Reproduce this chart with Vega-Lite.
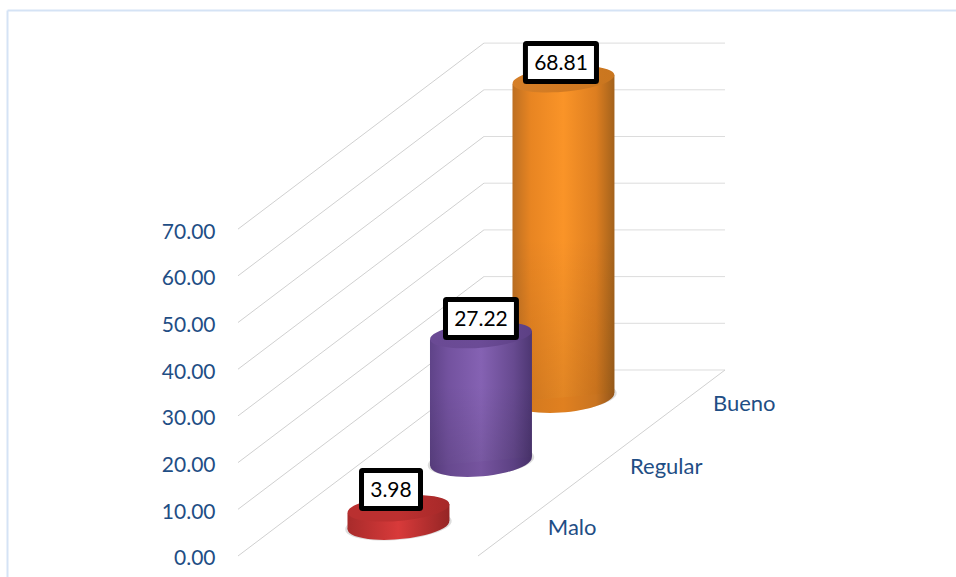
{"$schema":"https://vega.github.io/schema/vega-lite/v6.json","width":956,"height":577,"padding":0,"autosize":"none","background":"white","config":{"view":{"stroke":null}},
"datasets":{
"bars":[{"category":"Bueno","depth":3,"floor":34.0,"top":102.1,"value":68.81,"bx1":2.539,"bx2":3.4,"by1":109.74,"by2":101.61,"tx":2.97,"ty":105.27,"cx":4.812,"cy":32.56},
{"category":"Regular","depth":2,"floor":20.3,"top":47.3,"value":27.22,"bx1":1.57,"bx2":2.43,"by1":54.93,"by2":46.79,"tx":2.0,"ty":50.46,"cx":3.806,"cy":19.07},
{"category":"Malo","depth":1,"floor":6.6,"top":10.2,"value":3.98,"bx1":0.552,"bx2":1.267,"by1":18.31,"by2":10.17,"tx":0.909,"ty":13.84,"cx":2.81,"cy":6.01}],
"bodies":[{"category":"Bueno","x":2.382,"yTop":101.15,"yFloor":33.05},{"category":"Bueno","x":3.618,"yTop":103.05,"yFloor":34.95},
{"category":"Regular","x":1.382,"yTop":46.35,"yFloor":19.35},{"category":"Regular","x":2.618,"yTop":48.25,"yFloor":21.25},
{"category":"Malo","x":0.382,"yTop":9.25,"yFloor":5.65},{"category":"Malo","x":1.618,"yTop":11.15,"yFloor":7.55}],
"grid":[{"level":0,"fx":-0.945,"bx":2.036,"rx":4.958,"fy":0,"by":39.83},{"level":10,"fx":-0.945,"bx":2.036,"rx":4.958,"fy":10,"by":49.83},{"level":20,"fx":-0.945,"bx":2.036,"rx":4.958,"fy":20,"by":59.83},{"level":30,"fx":-0.945,"bx":2.036,"rx":4.958,"fy":30,"by":69.83},{"level":40,"fx":-0.945,"bx":2.036,"rx":4.958,"fy":40,"by":79.83},{"level":50,"fx":-0.945,"bx":2.036,"rx":4.958,"fy":50,"by":89.83},{"level":60,"fx":-0.945,"bx":2.036,"rx":4.958,"fy":60,"by":99.83},{"level":70,"fx":-0.945,"bx":2.036,"rx":4.958,"fy":70,"by":109.83}],
"floorEdge":[{"x1":1.964,"x2":4.958,"y1":0,"y2":39.83}],
"frame":[{"x1":-3.739,"x2":7.758,"y1":116.8,"y2":116.8},{"x1":-3.739,"x2":-3.739,"y1":116.8,"y2":-4.497}]
},
"encoding":{"x":{"type":"quantitative","scale":{"domain":[-3.83,7.758],"nice":false,"zero":false,"padding":0},"axis":null},"y":{"type":"quantitative","scale":{"domain":[-4.497,119.06],"nice":false,"zero":false,"padding":0}}},
"layer":[
{"data":{"name":"frame"},"mark":{"type":"rule","color":"#d5e3f5","strokeWidth":2},"encoding":{"x":{"field":"x1"},"x2":{"field":"x2"},"y":{"field":"y1","axis":{"orient":"left","offset":-215,"values":[0,10,20,30,40,50,60,70],"format":".2f","title":null,"domain":false,"ticks":false,"grid":false,"labelPadding":0,"labelOffset":3,"labelFont":"Lato","labelFontSize":21,"labelColor":"#1f4e85","labelBound":false,"labelOverlap":false}},"y2":{"field":"y2"}}},
{"data":{"name":"grid"},"mark":{"type":"rule","color":"#d0d0d0","strokeWidth":1},"encoding":{"x":{"field":"fx"},"x2":{"field":"bx"},"y":{"field":"fy"},"y2":{"field":"by"}}},
{"data":{"name":"grid"},"mark":{"type":"rule","color":"#dcdcdc","strokeWidth":1},"encoding":{"x":{"field":"bx"},"x2":{"field":"rx"},"y":{"field":"by"},"y2":{"field":"by"}}},
{"data":{"name":"floorEdge"},"mark":{"type":"rule","color":"#d0d0d0","strokeWidth":1},"encoding":{"x":{"field":"x1"},"x2":{"field":"x2"},"y":{"field":"y1"},"y2":{"field":"y2"}}},
{"data":{"name":"bars"},"mark":{"type":"point","filled":true,"opacity":0.25,"fill":"#777777","stroke":null,"size":11400,"shape":"M-0.996,0.087 A1,0.27,-5,1,1,0.996,-0.087 A1,0.27,-5,1,1,-0.996,0.087 Z"},"encoding":{"x":{"field":"depth"},"y":{"field":"floor"}}},

{"data":{"name":"bars"},"transform":[{"filter":"datum.category==='Bueno'"}],"mark":{"type":"point","filled":true,"opacity":1,"stroke":null,"size":10404,"fill":{"gradient":"linear","x1":0,"x2":1,"y1":0,"y2":0,"stops":[{"offset":0,"color":"#b3661d"},{"offset":0.18,"color":"#d57a1f"},{"offset":0.5,"color":"#e08020"},{"offset":0.82,"color":"#c97420"},{"offset":1,"color":"#94561a"}]},"shape":"M-0.996,0.087 A1,0.29,-5,1,1,0.996,-0.087 A1,0.29,-5,1,1,-0.996,0.087 Z"},"encoding":{"x":{"field":"depth"},"y":{"field":"floor"}}},
{"data":{"name":"bodies"},"transform":[{"filter":"datum.category==='Bueno'"}],"mark":{"type":"area","fill":{"gradient":"linear","x1":0,"x2":1,"y1":0,"y2":0,"stops":[{"offset":0,"color":"#bd6f22"},{"offset":0.18,"color":"#e88522"},{"offset":0.5,"color":"#fa9428"},{"offset":0.82,"color":"#dd7e20"},{"offset":1,"color":"#a3621c"}]}},"encoding":{"x":{"field":"x"},"y":{"field":"yTop"},"y2":{"field":"yFloor"}}},
{"data":{"name":"bodies"},"transform":[{"filter":"datum.category==='Bueno'"}],"mark":{"type":"area","fill":{"gradient":"linear","x1":0,"x2":0,"y1":0,"y2":1,"stops":[{"offset":0,"color":"rgba(0,0,0,0)"},{"offset":0.5,"color":"rgba(0,0,0,0)"},{"offset":1,"color":"rgba(0,0,0,0.1)"}]}},"encoding":{"x":{"field":"x"},"y":{"field":"yTop"},"y2":{"field":"yFloor"}}},
{"data":{"name":"bars"},"transform":[{"filter":"datum.category==='Bueno'"}],"mark":{"type":"point","filled":true,"opacity":1,"stroke":null,"size":10404,"fill":{"gradient":"linear","x1":0,"x2":1,"y1":0,"y2":0,"stops":[{"offset":0,"color":"#d57f28"},{"offset":0.5,"color":"#d27a22"},{"offset":1,"color":"#c9761f"}]},"shape":"M-0.996,0.087 A1,0.24,-5,1,1,0.996,-0.087 A1,0.24,-5,1,1,-0.996,0.087 Z"},"encoding":{"x":{"field":"depth"},"y":{"field":"top"}}},

{"data":{"name":"bars"},"transform":[{"filter":"datum.category==='Regular'"}],"mark":{"type":"point","filled":true,"opacity":1,"stroke":null,"size":10404,"fill":{"gradient":"linear","x1":0,"x2":1,"y1":0,"y2":0,"stops":[{"offset":0,"color":"#553a7a"},{"offset":0.18,"color":"#67498f"},{"offset":0.5,"color":"#76549f"},{"offset":0.82,"color":"#5c4183"},{"offset":1,"color":"#463068"}]},"shape":"M-0.996,0.087 A1,0.29,-5,1,1,0.996,-0.087 A1,0.29,-5,1,1,-0.996,0.087 Z"},"encoding":{"x":{"field":"depth"},"y":{"field":"floor"}}},
{"data":{"name":"bodies"},"transform":[{"filter":"datum.category==='Regular'"}],"mark":{"type":"area","fill":{"gradient":"linear","x1":0,"x2":1,"y1":0,"y2":0,"stops":[{"offset":0,"color":"#5f4388"},{"offset":0.18,"color":"#73529f"},{"offset":0.5,"color":"#8562b3"},{"offset":0.82,"color":"#674a90"},{"offset":1,"color":"#4d3672"}]}},"encoding":{"x":{"field":"x"},"y":{"field":"yTop"},"y2":{"field":"yFloor"}}},
{"data":{"name":"bodies"},"transform":[{"filter":"datum.category==='Regular'"}],"mark":{"type":"area","fill":{"gradient":"linear","x1":0,"x2":0,"y1":0,"y2":1,"stops":[{"offset":0,"color":"rgba(0,0,0,0)"},{"offset":0.4,"color":"rgba(0,0,0,0)"},{"offset":1,"color":"rgba(0,0,0,0.1)"}]}},"encoding":{"x":{"field":"x"},"y":{"field":"yTop"},"y2":{"field":"yFloor"}}},
{"data":{"name":"bars"},"transform":[{"filter":"datum.category==='Regular'"}],"mark":{"type":"point","filled":true,"opacity":1,"stroke":null,"size":10404,"fill":{"gradient":"linear","x1":0,"x2":1,"y1":0,"y2":0,"stops":[{"offset":0,"color":"#6a4a94"},{"offset":0.5,"color":"#6b4b96"},{"offset":1,"color":"#5c4084"}]},"shape":"M-0.996,0.087 A1,0.24,-5,1,1,0.996,-0.087 A1,0.24,-5,1,1,-0.996,0.087 Z"},"encoding":{"x":{"field":"depth"},"y":{"field":"top"}}},

{"data":{"name":"bars"},"transform":[{"filter":"datum.category==='Malo'"}],"mark":{"type":"point","filled":true,"opacity":1,"stroke":null,"size":10404,"fill":{"gradient":"linear","x1":0,"x2":1,"y1":0,"y2":0,"stops":[{"offset":0,"color":"#a82b2b"},{"offset":0.5,"color":"#d83a3a"},{"offset":1,"color":"#952525"}]},"shape":"M-0.996,0.087 A1,0.27,-5,1,1,0.996,-0.087 A1,0.27,-5,1,1,-0.996,0.087 Z"},"encoding":{"x":{"field":"depth"},"y":{"field":"floor"}}},
{"data":{"name":"bodies"},"transform":[{"filter":"datum.category==='Malo'"}],"mark":{"type":"area","fill":{"gradient":"linear","x1":0,"x2":1,"y1":0,"y2":0,"stops":[{"offset":0,"color":"#a82b2b"},{"offset":0.5,"color":"#d83a3a"},{"offset":1,"color":"#952525"}]}},"encoding":{"x":{"field":"x"},"y":{"field":"yTop"},"y2":{"field":"yFloor"}}},
{"data":{"name":"bars"},"transform":[{"filter":"datum.category==='Malo'"}],"mark":{"type":"point","filled":true,"opacity":1,"stroke":null,"size":10404,"fill":{"gradient":"linear","x1":0,"x2":1,"y1":0,"y2":0,"stops":[{"offset":0,"color":"#b93030"},{"offset":0.5,"color":"#bd3030"},{"offset":1,"color":"#a62929"}]},"shape":"M-0.996,0.087 A1,0.24,-5,1,1,0.996,-0.087 A1,0.24,-5,1,1,-0.996,0.087 Z"},"encoding":{"x":{"field":"depth"},"y":{"field":"top"}}},

{"data":{"name":"bars"},"mark":{"type":"rect","fill":"white","stroke":"black","strokeWidth":5,"cornerRadius":1},"encoding":{"x":{"field":"bx1"},"x2":{"field":"bx2"},"y":{"field":"by1"},"y2":{"field":"by2"}}},
{"data":{"name":"bars"},"mark":{"type":"text","font":"Lato","fontSize":21,"color":"black","align":"center","baseline":"middle"},"encoding":{"x":{"field":"tx"},"y":{"field":"ty"},"text":{"field":"value","type":"quantitative","format":".2f"}}},
{"data":{"name":"bars"},"mark":{"type":"text","font":"Lato","fontSize":22,"color":"#1f4e85","align":"left","baseline":"middle"},"encoding":{"x":{"field":"cx"},"y":{"field":"cy"},"text":{"field":"category","type":"nominal"}}}
]}
